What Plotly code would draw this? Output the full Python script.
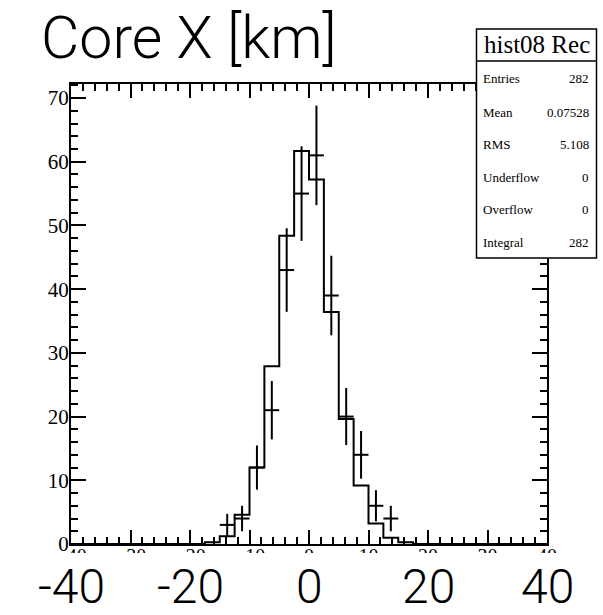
import numpy as np
import plotly.graph_objects as go

# ---------------- data ----------------
bin_low = -40.0
bin_width = 2.5
# reference (scaled) histogram drawn as a step line, 32 bins from -40 to 40
line_counts = [0, 0, 0, 0, 0, 0, 0, 0, 0,
               0.27, 1.2, 4.6, 12.0, 27.9, 48.4, 61.7, 57.2, 36.4, 19.6, 9.2, 3.2, 1.0, 0.27,
               0, 0, 0, 0, 0, 0, 0, 0, 0]
# "hist08 Rec" histogram drawn with error bars, 32 bins
point_counts = [0, 0, 0, 0, 0, 0, 0, 0, 0, 0,
                3, 4, 12, 21, 43, 55, 61, 39, 20, 14, 6, 4,
                0, 0, 0, 0, 0, 0, 0, 0, 0, 0]
x_range = [-40, 40]
y_max = 72.2
big_tick_vals = [-40, -20, 0, 20, 40]
big_tick_text = ["-40", "-20", "0", "20", "40"]
title_text = "Core X [km]"
stats_title = "hist08 Rec"
stats_names = ["Entries", "Mean", "RMS", "Underflow", "Overflow", "Integral"]
stats_values = ["282", "0.07528", "5.108", "0", "0", "282"]

# ---------------- geometry helpers ----------------
W, H = 603, 615
L, R, T, B = 71, 547, 84, 544   # plot area in pixels


def px(xp):
    return (xp - L) / (R - L)


def py(yp):
    return (B - yp) / (B - T)


n_bins = len(line_counts)
edges = bin_low + bin_width * np.arange(n_bins + 1)
centers = edges[:-1] + bin_width / 2

fig = go.Figure()

# step histogram
fig.add_trace(go.Scatter(
    x=edges, y=list(line_counts) + [line_counts[-1]],
    mode="lines", line=dict(color="black", width=2, shape="hv"),
    hoverinfo="skip", showlegend=False))

# error-bar histogram
pc = np.array(point_counts, dtype=float)
mask = pc > 0
fig.add_trace(go.Scatter(
    x=centers[mask], y=pc[mask], mode="markers",
    marker=dict(size=1, color="black"),
    error_y=dict(type="data", array=np.sqrt(pc[mask]), color="black", thickness=2, width=0),
    error_x=dict(type="data", array=np.full(mask.sum(), bin_width / 2), color="black", thickness=2, width=0),
    hoverinfo="skip", showlegend=False))

serif = "Liberation Serif"
sans = "Roboto"

fig.update_layout(
    width=W, height=H,
    margin=dict(l=L, r=W - R, t=T, b=H - B, pad=0),
    paper_bgcolor="white", plot_bgcolor="white",
    xaxis=dict(range=x_range, tick0=-40, dtick=10, ticks="inside", ticklen=14, tickwidth=1.5,
               tickcolor="black", showline=True, linewidth=2, linecolor="black",
               mirror="allticks", showgrid=False, zeroline=False, ticklabelstandoff=-7,
               tickfont=dict(family=serif, size=20, color="black"),
               minor=dict(dtick=2, ticks="inside", ticklen=7, tickwidth=1.5, tickcolor="black", showgrid=False)),
    yaxis=dict(range=[0, y_max], tick0=0, dtick=10, ticks="inside", ticklen=15, tickwidth=1.5,
               tickcolor="black", showline=True, linewidth=2, linecolor="black",
               mirror="allticks", showgrid=False, zeroline=False, ticklabelstandoff=-4,
               tickfont=dict(family=serif, size=21, color="black"),
               minor=dict(dtick=2, ticks="inside", ticklen=7, tickwidth=1.5, tickcolor="black", showgrid=False)),
)

shapes = []
# white strip hiding most of the small x tick labels
shapes.append(dict(type="rect", xref="paper", yref="paper", layer="above",
                   x0=px(0), x1=px(W), y0=py(553), y1=py(H + 5),
                   fillcolor="white", line=dict(width=0)))
# stats box
bx0, bx1, by0, by1, bsep = 476.5, 596.5, 29, 258, 61
shapes.append(dict(type="rect", xref="paper", yref="paper", layer="above",
                   x0=px(bx0), x1=px(bx1), y0=py(by1), y1=py(by0),
                   fillcolor="white", line=dict(color="black", width=1.5)))
shapes.append(dict(type="line", xref="paper", yref="paper", layer="above",
                   x0=px(bx0), x1=px(bx1), y0=py(bsep), y1=py(bsep),
                   line=dict(color="black", width=1.5)))
fig.update_layout(shapes=shapes)

ann = []
ann.append(dict(text=title_text, xref="paper", yref="paper", x=px(39), y=py(37),
                xanchor="left", yanchor="middle", showarrow=False,
                font=dict(family=sans, size=59, color="black", weight=300)))
for v, t in zip(big_tick_vals, big_tick_text):
    ann.append(dict(text=t, xref="x", yref="paper", x=v, y=py(586),
                    xanchor="center", yanchor="middle", showarrow=False,
                    font=dict(family=sans, size=48, color="black", weight=300)))
ann.append(dict(text=stats_title, xref="paper", yref="paper", x=px((bx0 + bx1) / 2), y=py(45),
                xanchor="center", yanchor="middle", showarrow=False,
                font=dict(family=serif, size=25, color="black")))
row_y = [78, 112, 144, 177, 209, 242]
for name, val, yy in zip(stats_names, stats_values, row_y):
    ann.append(dict(text=name, xref="paper", yref="paper", x=px(481), y=py(yy),
                    xanchor="left", yanchor="middle", showarrow=False,
                    font=dict(family=serif, size=13, color="black")))
    ann.append(dict(text=val, xref="paper", yref="paper", x=px(591), y=py(yy),
                    xanchor="right", yanchor="middle", showarrow=False,
                    font=dict(family=serif, size=13, color="black")))
fig.update_layout(annotations=ann)

fig.write_html("out.html")
